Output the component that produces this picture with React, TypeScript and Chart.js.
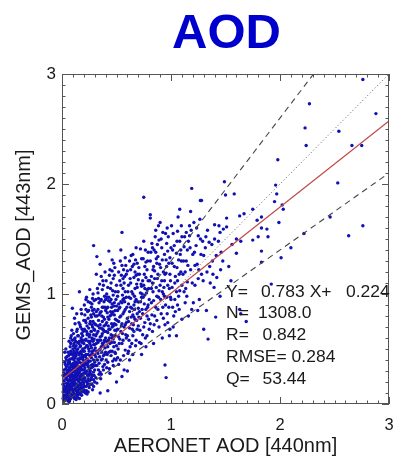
import React, { useEffect, useRef } from "react";
import { Chart, registerables } from "chart.js";

Chart.register(...registerables);

// ---------- data ----------
const titleText = "AOD";
const xAxisTitle = "AERONET AOD [440nm]";
const yAxisTitle = "GEMS_AOD [443nm]";
const axisMin = 0;
const axisMax = 3;
const majorTicks = [0, 1, 2, 3];

const fitSlope = 0.783;
const fitIntercept = 0.224;
const envelopeSlopes = [1.3, 0.7];

const statsLabels = ["Y=", "N=", "R=", "RMSE=", "Q="];
const statsValues = ["0.783 X+", "1308.0", "0.842", "0.284", "53.44"];
const statsExtra = "0.224";

// AERONET (x) / GEMS (y) pairs
const coreCluster: [number, number][] = [
  [0.01,0.05],[0.02,0.12],[0.03,0.08],[0.02,0.21],[0.04,0.15],[0.01,0.18],[0.03,0.27],[0.05,0.10],[0.04,0.04],[0.02,0.31],
  [0.05,0.22],[0.03,0.14],[0.04,0.34],[0.01,0.26],[0.05,0.17],[0.02,0.09],[0.04,0.24],[0.03,0.19],[0.05,0.30],[0.02,0.03],
  [0.04,0.40],[0.03,0.36],[0.05,0.06],[0.01,0.11],[0.04,0.12],
  [0.06,0.08],[0.07,0.15],[0.08,0.21],[0.06,0.27],[0.09,0.12],[0.07,0.33],[0.08,0.05],[0.10,0.18],[0.06,0.38],[0.09,0.26],
  [0.07,0.22],[0.08,0.30],[0.10,0.09],[0.06,0.17],[0.09,0.41],[0.07,0.03],[0.08,0.36],[0.10,0.24],[0.06,0.12],[0.09,0.19],
  [0.07,0.45],[0.08,0.14],[0.10,0.33],[0.06,0.21],[0.09,0.07],[0.07,0.28],[0.08,0.48],[0.10,0.13],[0.06,0.31],[0.09,0.35],
  [0.07,0.10],[0.08,0.25],[0.10,0.42],[0.06,0.05],[0.09,0.29],[0.07,0.18],[0.08,0.55],[0.10,0.21],[0.09,0.16],[0.07,0.38],
  [0.095,0.87],[0.09,0.67],[0.08,0.60],[0.10,0.50],[0.06,0.44],
  [0.11,0.06],[0.12,0.14],[0.13,0.22],[0.11,0.29],[0.14,0.11],[0.12,0.35],[0.13,0.18],[0.15,0.26],[0.11,0.40],[0.14,0.31],
  [0.12,0.08],[0.13,0.44],[0.15,0.16],[0.11,0.20],[0.14,0.37],[0.12,0.25],[0.13,0.04],[0.15,0.33],[0.11,0.13],[0.14,0.23],
  [0.12,0.51],[0.13,0.28],[0.15,0.09],[0.11,0.35],[0.14,0.47],[0.12,0.19],[0.13,0.38],[0.15,0.21],[0.11,0.24],[0.14,0.15],
  [0.12,0.42],[0.13,0.12],[0.15,0.40],[0.11,0.17],[0.14,0.56],[0.12,0.30],[0.13,0.33],[0.15,0.28],[0.11,0.48],[0.14,0.06],
  [0.12,0.60],[0.13,0.53],[0.15,0.62],[0.16,1.02],[0.12,0.73],[0.14,0.68],[0.11,0.55],[0.13,0.26],[0.15,0.13],[0.12,0.22],
  [0.16,0.10],[0.17,0.19],[0.18,0.27],[0.16,0.34],[0.19,0.15],[0.17,0.41],[0.18,0.08],[0.20,0.23],[0.16,0.46],[0.19,0.31],
  [0.17,0.25],[0.18,0.37],[0.20,0.13],[0.16,0.22],[0.19,0.50],[0.17,0.14],[0.18,0.58],[0.20,0.35],[0.16,0.29],[0.19,0.20],
  [0.17,0.53],[0.18,0.18],[0.20,0.44],[0.16,0.38],[0.19,0.11],[0.17,0.32],[0.18,0.64],[0.20,0.28],[0.16,0.16],[0.19,0.42],
  [0.17,0.70],[0.18,0.23],[0.20,0.55],[0.16,0.05],[0.19,0.37],[0.17,0.47],[0.18,0.31],[0.20,0.19],[0.19,0.62],[0.17,0.09],
  [0.18,0.45],[0.16,0.57],[0.20,0.76],[0.19,0.26],[0.18,0.82],
  [0.21,0.12],[0.22,0.21],[0.23,0.30],[0.21,0.38],[0.24,0.17],[0.22,0.45],[0.23,0.09],[0.25,0.26],[0.21,0.51],[0.24,0.34],
  [0.22,0.28],[0.23,0.41],[0.25,0.15],[0.21,0.24],[0.24,0.57],[0.22,0.16],[0.23,0.63],[0.25,0.39],[0.21,0.33],[0.24,0.23],
  [0.22,0.59],[0.23,0.20],[0.25,0.48],[0.21,0.44],[0.24,0.45],[0.22,0.36],[0.23,0.71],[0.25,0.32],[0.21,0.67],[0.24,0.78],
  [0.22,0.74],[0.23,0.53],[0.25,0.61],[0.22,0.86],[0.24,0.93],[0.21,0.81],[0.25,0.21],[0.23,0.36],[0.24,0.11],[0.22,0.95],
  [0.26,0.18],[0.27,0.27],[0.28,0.36],[0.26,0.44],[0.29,0.22],[0.27,0.51],[0.28,0.13],[0.30,0.31],[0.26,0.57],[0.29,0.40],
  [0.27,0.33],[0.28,0.48],[0.30,0.20],[0.26,0.30],[0.29,0.63],[0.27,0.24],[0.28,0.70],[0.30,0.45],[0.26,0.39],[0.29,0.29],
  [0.27,0.66],[0.28,0.26],[0.30,0.54],[0.26,0.75],[0.29,0.82],[0.27,0.88],[0.28,0.59],[0.30,0.67],[0.26,0.92],[0.29,0.54],
  [0.27,0.42],[0.28,0.96],[0.30,0.38],[0.29,0.16],[0.27,0.79],[0.28,0.85],[0.29,1.44],[0.30,0.73],
];

const coreFill: [number, number][] = [
  [0.015,0.07],[0.025,0.16],[0.035,0.23],[0.045,0.09],[0.055,0.19],[0.065,0.26],[0.075,0.13],[0.085,0.34],[0.095,0.22],[0.015,0.29],
  [0.025,0.04],[0.035,0.11],[0.045,0.28],[0.055,0.36],[0.065,0.02],[0.075,0.41],[0.085,0.17],[0.095,0.07],[0.015,0.14],[0.025,0.38],
  [0.035,0.32],[0.045,0.19],[0.055,0.47],[0.065,0.33],[0.075,0.24],[0.085,0.09],[0.095,0.45],[0.035,0.05],[0.055,0.13],[0.075,0.52],
  [0.025,0.25],[0.045,0.43],[0.065,0.15],[0.085,0.28],[0.095,0.31],[0.015,0.21],[0.055,0.26],[0.075,0.06],[0.035,0.42],[0.065,0.57],
  [0.085,0.46],[0.045,0.06],[0.095,0.58],[0.025,0.47],[0.075,0.31],[0.055,0.03],[0.065,0.40],[0.085,0.62],[0.035,0.50],[0.095,0.14],
  [0.105,0.11],[0.115,0.19],[0.125,0.27],[0.135,0.36],[0.145,0.17],[0.155,0.45],[0.165,0.24],[0.175,0.33],[0.185,0.15],[0.195,0.40],
  [0.105,0.37],[0.115,0.05],[0.125,0.46],[0.135,0.14],[0.145,0.29],[0.155,0.20],[0.165,0.52],[0.175,0.12],[0.185,0.43],[0.195,0.27],
  [0.105,0.26],[0.115,0.33],[0.125,0.09],[0.135,0.49],[0.145,0.41],[0.155,0.34],[0.165,0.31],[0.175,0.60],[0.185,0.35],[0.195,0.18],
  [0.105,0.53],[0.115,0.44],[0.125,0.38],[0.135,0.24],[0.145,0.62],[0.155,0.11],[0.165,0.42],[0.175,0.26],[0.185,0.56],[0.195,0.48],
  [0.105,0.64],[0.115,0.59],[0.125,0.16],[0.135,0.66],[0.145,0.08],[0.155,0.55],[0.165,0.72],[0.175,0.48],[0.185,0.68],[0.195,0.58],
  [0.115,0.78],[0.135,0.82],[0.155,0.74],[0.175,0.86],[0.195,0.66],[0.125,0.57],[0.145,0.50],[0.165,0.17],[0.185,0.22],[0.105,0.46],
  [0.205,0.16],[0.215,0.29],[0.225,0.40],[0.235,0.52],[0.245,0.27],[0.255,0.63],[0.265,0.35],[0.275,0.46],[0.285,0.57],[0.295,0.26],
  [0.205,0.48],[0.215,0.58],[0.225,0.12],[0.235,0.37],[0.245,0.69],[0.255,0.44],[0.265,0.53],[0.275,0.18],[0.285,0.75],[0.295,0.49],
  [0.205,0.68],[0.215,0.21],[0.225,0.66],[0.235,0.26],[0.245,0.50],[0.255,0.29],[0.265,0.81],[0.275,0.60],[0.285,0.34],[0.295,0.68],
  [0.205,0.31],[0.215,0.76],[0.225,0.53],[0.235,0.84],[0.245,0.39],[0.255,0.73],[0.265,0.22],[0.275,0.91],[0.285,0.45],[0.295,0.86],
  [0.205,0.90],[0.215,0.43],[0.225,0.97],[0.235,0.64],[0.245,0.85],[0.255,1.04],[0.265,0.66],[0.275,0.34],[0.285,1.00],[0.295,0.59],
  [0.215,0.10],[0.235,0.18],[0.255,0.55],[0.275,0.72],[0.295,0.94],
];

const midCluster: [number, number][] = [
  [0.31,0.24],[0.32,0.35],[0.33,0.46],[0.34,0.58],[0.35,0.29],[0.36,0.69],[0.37,0.41],[0.38,0.53],[0.39,0.77],[0.31,0.62],
  [0.32,0.48],[0.33,0.71],[0.34,0.37],[0.35,0.83],[0.36,0.52],[0.37,0.64],[0.38,0.88],[0.39,0.45],[0.31,0.43],[0.32,0.80],
  [0.33,0.56],[0.34,0.92],[0.35,0.61],[0.36,0.40],[0.37,0.75],[0.38,0.31],[0.39,0.98],[0.40,0.60],[0.31,0.72],[0.32,0.19],
  [0.33,0.86],[0.34,0.49],[0.35,0.72],[0.36,0.95],[0.37,0.55],[0.38,0.67],[0.39,0.36],[0.40,0.85],[0.32,1.34],[0.35,1.27],
  [0.33,0.66],[0.36,0.27],[0.37,1.04],[0.38,0.79],[0.39,0.58],[0.40,0.47],[0.34,0.81],[0.31,0.95],[0.35,0.50],[0.36,0.84],
  [0.38,1.08],[0.40,0.72],[0.33,1.01],[0.37,0.88],[0.39,0.66],[0.34,0.27],[0.36,1.16],[0.32,0.64],[0.38,0.44],[0.40,0.95],
  [0.41,0.33],[0.42,0.52],[0.43,0.68],[0.44,0.80],[0.45,0.44],[0.46,0.91],[0.47,0.59],[0.48,0.73],[0.49,1.02],[0.41,0.87],
  [0.42,0.65],[0.43,0.97],[0.44,0.55],[0.45,1.10],[0.46,0.70],[0.47,0.84],[0.48,1.17],[0.49,0.62],[0.41,0.57],[0.42,1.06],
  [0.43,0.77],[0.44,1.22],[0.45,0.81],[0.46,0.48],[0.47,0.99],[0.48,0.41],[0.49,0.85],[0.50,0.67],[0.43,1.39],[0.46,1.31],
  [0.42,0.38],[0.44,0.68],[0.47,0.71],[0.48,0.92],[0.50,0.53],[0.41,0.74],[0.45,0.95],[0.46,0.60],[0.49,0.77],[0.50,1.08],
  [0.42,0.88],[0.44,0.93],[0.47,1.14],[0.48,0.56],[0.43,0.47],[0.45,0.63],[0.49,0.46],[0.50,0.89],[0.46,1.21],[0.41,1.00],
  [0.44,0.28],[0.47,0.35],[0.48,0.81],[0.42,0.79],[0.46,0.82],[0.42,0.12],[0.35,0.10],[0.50,0.20],
  [0.51,0.42],[0.52,0.61],[0.53,0.79],[0.54,0.93],[0.55,0.55],[0.56,1.05],[0.57,0.70],[0.58,0.86],[0.59,1.18],[0.51,0.98],
  [0.52,0.75],[0.53,1.12],[0.54,0.66],[0.55,1.26],[0.56,0.82],[0.57,0.96],[0.58,1.33],[0.59,0.74],[0.51,0.68],[0.52,1.20],
  [0.53,0.88],[0.54,1.40],[0.55,0.92],[0.56,0.58],[0.57,1.10],[0.58,0.49],[0.59,0.97],[0.60,0.78],[0.55,1.56],[0.52,0.36],
  [0.54,0.80],[0.57,0.84],[0.58,1.02],[0.60,0.62],[0.51,0.85],[0.53,0.59],[0.56,0.95],[0.59,0.60],[0.60,1.21],[0.52,0.91],
  [0.55,0.73],[0.57,0.31],[0.54,1.08],[0.58,0.72],[0.56,1.14],[0.55,0.25],[0.60,0.30],
  [0.61,0.48],[0.62,0.69],[0.63,0.88],[0.64,1.02],[0.65,0.62],[0.66,1.15],[0.67,0.77],[0.68,0.95],[0.69,1.28],[0.61,1.08],
  [0.62,0.84],[0.63,1.22],[0.64,0.73],[0.65,1.36],[0.66,0.90],[0.67,1.05],[0.68,1.42],[0.69,0.82],[0.61,0.75],[0.62,1.30],
  [0.63,0.96],[0.64,0.55],[0.65,1.00],[0.66,0.66],[0.67,1.20],[0.68,0.58],[0.69,1.06],[0.70,0.87],[0.62,0.40],[0.64,0.87],
  [0.66,0.79],[0.67,0.93],[0.69,0.68],[0.70,1.13],[0.63,1.10],[0.65,0.81],[0.68,1.17],[0.61,0.91],[0.66,1.27],[0.70,0.71],
  [0.65,0.45],
  [0.71,0.56],[0.72,0.78],[0.73,0.97],[0.74,1.12],[0.75,0.70],[0.76,1.25],[0.77,0.86],[0.78,1.04],[0.79,1.38],[0.71,1.18],
  [0.72,0.93],[0.73,1.32],[0.74,0.82],[0.75,1.48],[0.76,0.99],[0.77,1.15],[0.78,0.62],[0.79,0.90],[0.71,0.84],[0.72,1.41],
  [0.73,1.07],[0.74,0.63],[0.75,1.08],[0.76,0.74],[0.77,1.29],[0.78,0.80],[0.79,1.12],[0.80,0.95],[0.75,1.88],[0.73,0.45],
  [0.76,1.05],[0.78,1.22],[0.80,0.68],[0.72,1.01],[0.77,0.52],
];

const midFill: [number, number][] = [
  [0.305,0.51],[0.315,0.84],[0.325,0.58],[0.335,0.31],[0.345,0.69],[0.355,0.94],[0.365,0.62],[0.375,0.34],[0.385,0.71],[0.395,0.88],
  [0.305,0.35],[0.315,0.55],[0.325,1.05],[0.335,0.76],[0.345,0.43],[0.355,0.58],[0.365,0.80],[0.375,1.12],[0.385,0.56],[0.395,0.51],
  [0.305,0.80],[0.325,0.40],[0.345,1.09],[0.365,0.47],[0.385,0.93],[0.405,0.66],[0.415,0.45],[0.425,0.94],[0.435,0.60],[0.445,1.05],
  [0.455,0.73],[0.465,0.39],[0.475,0.89],[0.485,0.67],[0.495,0.95],[0.405,1.12],[0.415,0.83],[0.425,0.58],[0.435,1.17],[0.445,0.48],
  [0.455,0.88],[0.465,1.03],[0.475,0.52],[0.485,1.24],[0.495,0.72],[0.405,0.40],[0.425,0.71],[0.445,0.84],[0.465,0.62],[0.485,0.47],
  [0.315,1.18],[0.355,0.23],[0.395,1.20],[0.435,0.32],[0.475,1.28],[0.335,0.96],[0.375,0.68],[0.415,0.97],[0.455,0.56],[0.495,0.40],
  [0.505,0.76],[0.515,1.02],[0.525,0.55],[0.535,1.30],[0.545,0.71],[0.555,0.99],[0.565,0.44],[0.575,1.16],[0.585,0.63],[0.595,0.88],
  [0.605,1.02],[0.615,0.58],[0.625,1.14],[0.635,0.79],[0.645,1.25],[0.655,0.72],[0.665,0.98],[0.675,0.53],[0.685,1.09],[0.695,0.93],
  [0.705,1.24],[0.715,0.67],[0.725,1.09],[0.735,0.86],[0.745,1.32],[0.755,0.91],[0.765,0.60],[0.775,1.01],[0.785,1.30],[0.795,0.77],
  [0.515,0.50],[0.545,1.17],[0.575,0.93],[0.605,0.46],[0.635,1.35],[0.665,0.86],[0.695,1.18],[0.725,0.55],[0.755,1.18],[0.785,0.88],
  [0.525,0.87],[0.555,0.64],[0.585,1.26],[0.615,0.97],[0.645,0.68],[0.675,1.31],[0.705,0.79],[0.735,1.00],[0.765,1.40],[0.795,1.05],
  [0.535,0.40],[0.565,1.22],[0.625,0.52],[0.685,0.76],[0.745,0.97],
  [0.805,1.12],[0.825,0.81],[0.845,1.40],[0.865,1.06],[0.885,0.97],[0.905,1.24],[0.925,0.88],[0.945,1.18],[0.965,0.82],[0.985,1.05],
  [1.015,0.88],[1.035,1.10],[1.055,1.24],[1.075,0.86],[1.095,1.30],[0.835,1.22],[0.875,1.45],[0.915,1.12],[0.955,1.31],[0.995,0.97],
];

const upperCluster: [number, number][] = [
  [0.81,0.73],[0.82,0.92],[0.83,1.10],[0.84,1.25],[0.85,0.80],[0.86,1.38],[0.87,0.98],[0.88,1.18],[0.89,1.49],[0.81,1.30],
  [0.82,1.05],[0.83,0.66],[0.84,0.94],[0.85,1.14],[0.86,1.58],[0.87,1.28],[0.88,0.86],[0.89,1.03],[0.81,1.72],[0.81,1.69],
  [0.83,1.42],[0.85,1.21],[0.87,0.76],[0.90,1.65],[0.90,1.08],[0.84,0.55],[0.86,0.88],[0.88,1.34],[0.89,0.70],[0.82,1.16],
  [0.91,1.50],[0.91,0.82],[0.92,1.02],[0.93,1.20],[0.94,1.36],[0.945,0.355],[0.955,0.24],[0.95,0.90],[0.96,1.46],[0.97,1.08],
  [0.98,1.28],[0.99,0.68],[0.92,1.31],[0.93,0.78],[0.94,1.12],[0.95,1.55],[0.96,0.97],[0.97,1.39],[0.98,0.88],[0.99,1.18],
  [1.00,1.42],[1.00,0.95],[0.92,0.60],[0.97,0.74],[0.99,1.33],[0.94,0.98],[0.96,1.25],[0.93,1.00],
  [1.01,1.06],[1.02,1.55],[1.03,1.25],[1.04,0.84],[1.05,1.37],[1.06,1.57],[1.06,1.12],[1.07,0.98],[1.08,1.77],[1.08,1.48],
  [1.09,1.20],[1.10,0.77],[1.02,0.70],[1.03,1.44],[1.05,1.02],[1.07,1.31],[1.09,1.40],[1.10,1.08],[1.04,1.16],[1.01,1.28],
  [1.06,0.90],[1.08,1.03],[1.10,1.52],[1.05,0.62],
  [1.11,1.18],[1.12,1.43],[1.13,0.92],[1.14,1.30],[1.15,1.11],[1.16,1.48],[1.17,1.53],[1.17,1.62],[1.18,1.75],[1.19,1.96],
  [1.19,0.86],[1.12,1.02],[1.14,1.56],[1.16,0.80],[1.18,1.22],[1.20,1.36],[1.13,1.20],[1.15,1.40],
  [1.21,1.65],[1.22,1.08],[1.23,1.44],[1.24,1.27],[1.25,1.53],[1.26,0.95],[1.27,1.85],[1.28,1.85],[1.28,1.18],[1.29,1.48],
  [1.30,0.68],[1.30,1.35],[1.22,1.26],[1.25,1.14],[1.27,1.50],
];

const upperFill: [number, number][] = [
  [0.815,1.38],[0.835,1.02],[0.855,1.52],[0.875,1.14],[0.895,1.27],[0.915,1.42],[0.935,1.06],[0.955,1.19],[0.975,1.52],[0.995,1.12],
  [1.015,1.40],[1.035,0.95],[1.055,1.48],[1.075,1.18],[1.095,1.62],[1.115,1.30],[1.135,1.05],[1.155,1.26],[1.175,1.42],[1.195,1.10],
  [1.215,1.38],[1.235,1.60],[1.255,1.22],[1.275,1.36],[1.295,1.12],[1.315,1.42],[1.335,1.58],[1.355,1.25],[1.375,1.45],[1.395,1.06],
  [1.415,1.35],[1.435,1.48],[1.455,1.22],[1.475,1.30],[0.845,0.72],[0.905,0.95],[0.965,1.60],[1.025,0.80],[1.085,1.36],[1.145,0.98],
  [1.205,0.92],[1.265,1.68],[1.325,0.85],[1.385,1.18],[0.825,1.46],[0.885,1.62],[0.945,0.72],[1.005,1.62],[1.065,1.70],[1.125,1.52],
  [1.185,1.58],[1.245,0.85],[0.865,1.32],[0.925,1.56],[0.985,0.62],
];

const sparseTail: [number, number][] = [
  [1.32,1.52],[1.33,1.20],[1.34,0.59],[1.35,1.47],[1.36,1.10],[1.38,1.30],[1.40,1.63],[1.40,1.50],[1.41,0.79],[1.42,1.15],
  [1.44,1.62],[1.45,1.56],[1.45,0.98],[1.46,1.38],[1.48,1.59],[1.49,2.02],[1.50,1.90],
  [1.51,1.61],[1.51,1.69],[1.53,1.25],[1.55,1.12],[1.58,1.91],[1.60,1.50],[1.60,1.37],[1.63,1.71],[1.63,0.86],[1.64,0.82],
  [1.64,1.48],[1.67,1.73],[1.69,0.75],[1.56,1.45],
  [1.75,1.77],[1.75,1.49],[1.79,1.67],[1.80,1.52],[1.83,1.70],[1.83,1.60],[1.83,1.39],[1.83,1.29],[1.88,1.59],[1.89,1.52],
  [1.92,1.09],[1.95,1.84],[1.96,1.99],[1.97,1.91],[1.98,2.22],[1.99,1.65],
  [2.01,1.33],[2.02,1.81],[2.03,1.77],[2.10,1.42],[2.22,1.55],[2.23,2.51],[2.24,2.35],[2.27,2.73],[2.46,1.70],[2.53,2.01],
  [2.54,2.48],[2.63,1.53],[2.66,2.35],[2.75,2.35],[2.76,2.95],[2.76,1.62],[2.88,2.64],[3.10,1.97],
];

// ---------- styling ----------
const FONT = "'Liberation Sans', Arial, Helvetica, sans-serif";
const TEXT_COLOR = "#1a1a1a";
const FRAME_COLOR = "#555555";

const decorPlugin = {
  id: "decor",
  afterDatasetsDraw(chart: any) {
    const { ctx, chartArea } = chart;
    const xs = chart.scales.x;
    const ys = chart.scales.y;
    const { left, right, top, bottom } = chartArea;
    ctx.save();
    ctx.strokeStyle = FRAME_COLOR;
    ctx.lineWidth = 1;
    ctx.strokeRect(Math.round(left) + 0.5, Math.round(top) + 0.5, Math.round(right - left) - 1, Math.round(bottom - top) - 1);
    ctx.beginPath();
    for (let i = 0; i <= 30; i++) {
      const v = axisMin + (i * (axisMax - axisMin)) / 30;
      const len = i % 10 === 0 ? 7 : 3.5;
      const px = Math.round(xs.getPixelForValue(v)) + 0.5;
      const py = Math.round(ys.getPixelForValue(v)) + 0.5;
      ctx.moveTo(px, bottom); ctx.lineTo(px, bottom - len);
      ctx.moveTo(px, top); ctx.lineTo(px, top + len);
      ctx.moveTo(left, py); ctx.lineTo(left + len, py);
      ctx.moveTo(right, py); ctx.lineTo(right - len, py);
    }
    ctx.stroke();
    ctx.restore();
  },
  afterDraw(chart: any) {
    const { ctx, chartArea } = chart;
    const { left, right, bottom } = chartArea;
    const cx = (left + right) / 2;
    ctx.save();
    ctx.fillStyle = "#0000CD";
    ctx.font = `bold 49px ${FONT}`;
    ctx.textAlign = "center";
    ctx.textBaseline = "alphabetic";
    ctx.fillText(titleText, cx + 1, 48);
    ctx.fillStyle = TEXT_COLOR;
    ctx.font = `20px ${FONT}`;
    ctx.fillText(xAxisTitle, cx, bottom + 47.5);
    ctx.save();
    ctx.translate(left - 32, 245);
    ctx.rotate(-Math.PI / 2);
    ctx.fillText(yAxisTitle, 0, 0);
    ctx.restore();
    ctx.font = `16.5px ${FONT}`;
    ctx.textAlign = "left";
    const sx = left + 164;
    const baseY = bottom - 107.5;
    const gap = 21.8;
    const drawStretched = (t: string, x: number, y: number) => {
      ctx.save();
      ctx.translate(x, y);
      ctx.scale(1.06, 1);
      ctx.fillText(t, 0, 0);
      ctx.restore();
    };
    statsLabels.forEach((lab, i) => {
      const y = baseY + i * gap;
      if (i === 3) {
        drawStretched(lab + " " + statsValues[i], sx, y);
      } else {
        drawStretched(lab, sx, y);
        const vx = i === 0 ? sx + 35 : i === 1 ? sx + 32 : sx + 36.5;
        drawStretched(statsValues[i], vx, y);
      }
    });
    drawStretched(statsExtra, sx + 120, baseY);
    ctx.restore();
  },
};

export default function App() {
  const ref = useRef<HTMLCanvasElement | null>(null);
  useEffect(() => {
    if (!ref.current) return;
    const scatterData = [...coreCluster, ...coreFill, ...midCluster, ...midFill, ...upperCluster, ...upperFill, ...sparseTail].map(([x, y]) => ({ x, y }));
    const fitLine = [axisMin, axisMax].map((x) => ({ x, y: fitSlope * x + fitIntercept }));
    const oneToOne = [axisMin, axisMax].map((x) => ({ x, y: x }));
    const envelopes = envelopeSlopes.map((s) => [axisMin, axisMax].map((x) => ({ x, y: s * x })));
    const lineBase = { type: "line" as const, pointRadius: 0, fill: false, tension: 0, order: 1 };
    const chart = new Chart(ref.current, {
      type: "scatter",
      data: {
        datasets: [
          { ...lineBase, data: fitLine, borderColor: "#C04848", borderWidth: 1.3 },
          { ...lineBase, data: oneToOne, borderColor: "#555555", borderWidth: 1, borderDash: [1, 2.5] },
          ...envelopes.map((d) => ({
            ...lineBase,
            data: d,
            borderColor: "#444444",
            borderWidth: 1.1,
            borderDash: [6, 4.5],
          })),
          {
            type: "scatter" as const,
            data: scatterData,
            pointRadius: 1.7,
            pointBackgroundColor: "#1010B4",
            pointBorderWidth: 0,
            clip: false as any,
            order: 2,
          },
        ] as any,
      },
      options: {
        responsive: false,
        animation: false,
        events: [],
        layout: { padding: { top: 74, right: 12, left: 0, bottom: 0 } },
        plugins: { legend: { display: false }, tooltip: { enabled: false }, title: { display: false } },
        scales: {
          x: {
            type: "linear",
            min: axisMin,
            max: axisMax,
            afterFit: (s: any) => { s.height = 53; s.paddingLeft = 0; s.paddingRight = 0; },
            afterBuildTicks: (s: any) => { s.ticks = majorTicks.map((v) => ({ value: v })); },
            grid: { display: false, drawTicks: false },
            border: { display: false },
            ticks: { padding: 12, color: TEXT_COLOR, font: { family: FONT, size: 16.5 }, maxRotation: 0 },
          },
          y: {
            type: "linear",
            min: axisMin,
            max: axisMax,
            afterFit: (s: any) => { s.width = 62; s.paddingTop = 0; s.paddingBottom = 0; },
            afterBuildTicks: (s: any) => { s.ticks = majorTicks.map((v) => ({ value: v })); },
            grid: { display: false, drawTicks: false },
            border: { display: false },
            ticks: { padding: 6, color: TEXT_COLOR, font: { family: FONT, size: 17 } },
          },
        },
      },
      plugins: [decorPlugin],
    });
    return () => chart.destroy();
  }, []);
  return (
    <div style={{ position: "absolute", left: 0, top: 0, width: 401, height: 457, background: "#fff" }}>
      <canvas ref={ref} width={401} height={457} style={{ width: 401, height: 457, display: "block" }} />
    </div>
  );
}
